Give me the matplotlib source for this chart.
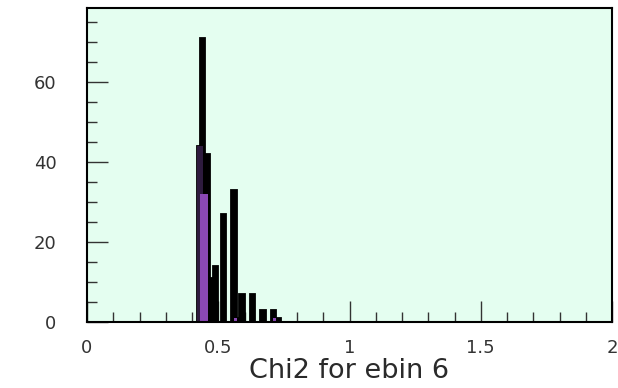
import numpy as np
import matplotlib
matplotlib.use("Agg")
import matplotlib.pyplot as plt
from matplotlib.ticker import MultipleLocator

plt.rcParams["font.family"] = ["DejaVu Sans"]

# 200 bins of 0.01 between 0 and 2; only the occupied range is listed
bin_width = 0.01
first_bin = 0.42
all_counts = [44, 71, 71, 42, 42, 11, 14, 14, 0, 27, 27, 0, 0, 33, 33, 1,
              7, 7, 0, 0, 7, 7, 0, 0, 3, 3, 0, 0, 3, 3, 1, 1]
overlap_counts = [44, 44]
selected_first = 0.43
selected_counts = [32, 32, 32]
tail_bins = [0.56, 0.71]
tail_counts = [1, 1]

edges = np.round(np.arange(0, 2 + bin_width / 2, bin_width), 4)
n_bins = len(edges) - 1


def fill_bins(start, counts):
    h = np.zeros(n_bins)
    i0 = int(round(start / bin_width))
    h[i0:i0 + len(counts)] = counts
    return h


h_all = fill_bins(first_bin, all_counts)
h_overlap = fill_bins(first_bin, overlap_counts)
h_sel = fill_bins(selected_first, selected_counts)
for b, c in zip(tail_bins, tail_counts):
    h_sel[int(round(b / bin_width))] = c

fig = plt.figure(figsize=(6.18, 3.88), dpi=100)
ax = fig.add_axes([87 / 618, 66 / 388, 525 / 618, 314 / 388])
ax.set_facecolor("#e4fef0")

ax.stairs(h_all, edges, fill=True, color="black", zorder=2)
ax.stairs(h_all, edges, color="black", lw=1.3, zorder=2)
ax.stairs(h_overlap, edges, fill=True, color="#2e1b3e", zorder=3)
ax.stairs(h_sel, edges, fill=True, color="#8a48b4", zorder=4)

ax.set_xlim(0, 2)
ax.set_ylim(0, 78.5)

ax.xaxis.set_major_locator(MultipleLocator(0.5))
ax.xaxis.set_minor_locator(MultipleLocator(0.1))
ax.yaxis.set_major_locator(MultipleLocator(20))
ax.yaxis.set_minor_locator(MultipleLocator(5))
ax.set_xticks([0, 0.5, 1, 1.5, 2])
ax.set_xticklabels(["0", "0.5", "1", "1.5", "2"])

ax.tick_params(which="both", direction="in", top=False, right=False,
               colors="#333333", labelsize=13, width=1)
ax.tick_params(which="major", length=15)
ax.tick_params(which="minor", length=7)
ax.tick_params(axis="y", pad=22)
ax.tick_params(axis="x", pad=12)

for s in ax.spines.values():
    s.set_linewidth(1.5)
    s.set_zorder(5)

ax.set_xlabel("Chi2 for ebin 6", fontsize=19.5, color="#2a2a2a", labelpad=1)

fig.savefig("out.png", dpi=100)
